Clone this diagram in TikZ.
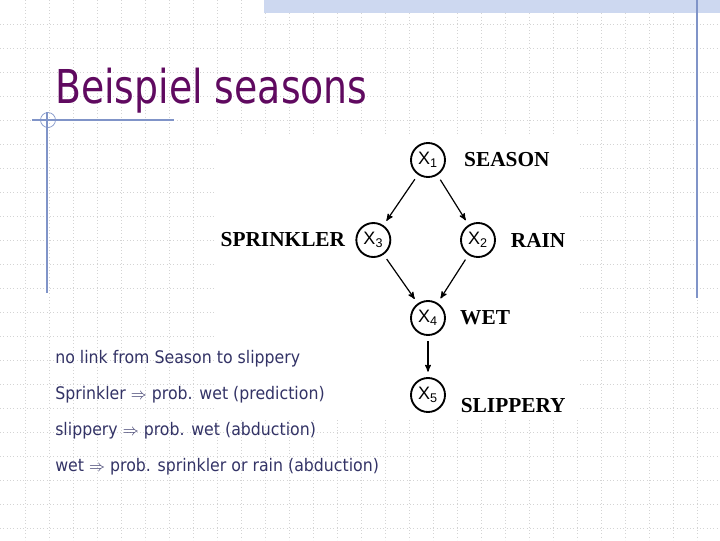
\documentclass[tikz,border=0pt]{standalone}
\usepackage{fontspec}
\setmainfont{DejaVu Sans}
\newfontfamily\titlefont{DejaVu Sans}[FakeStretch=0.81]
\newfontfamily\notefont{DejaVu Sans}[FakeStretch=0.91]
\newfontfamily\varfont{Liberation Sans}
\newfontfamily\namefont{Liberation Serif}
\usetikzlibrary{arrows, positioning}
\definecolor{titlepurple}{RGB}{96,10,96}
\definecolor{notecolor}{RGB}{51,51,102}
\definecolor{rulecolor}{RGB}{128,148,200}
\definecolor{barcolor}{RGB}{205,216,240}
\definecolor{gridcolor}{RGB}{212,212,212}

\begin{document}
\begin{tikzpicture}[x=0.75pt, y=-0.75pt]
		\tikzstyle{VarCircle} = [circle, on grid, minimum size=25.5pt, inner sep=0pt, draw=black, line width=1.4pt, font=\varfont\fontsize{13.5}{15}\selectfont]
		\tikzstyle{VarName} = [inner sep=0pt, font=\namefont\bfseries\fontsize{16}{18}\selectfont]
		\tikzstyle{NoteText} = [anchor=base west, inner sep=0pt, text=notecolor, font=\notefont\fontsize{13}{15}\selectfont]
		\tikzstyle{GridLine} = [gridcolor, dotted, line width=0.5pt]
		\tikzstyle{DecoLine} = [rulecolor, line width=0.8pt]
		\tikzstyle{arrow} = [->, >=stealth', line width=0.9pt, shorten >=4pt, shorten <=4pt]
		
		\useasboundingbox (0,0) rectangle (720,540);
		\fill[white] (0,0) rectangle (720,540);
		\foreach \gx in {25,49,...,697} \draw[GridLine] (\gx,0) -- (\gx,540);
		\foreach \gy in {24,48,...,528} \draw[GridLine] (0,\gy) -- (720,\gy);
		\fill[white] (214,135) rectangle (580,418);
		\fill[barcolor] (264,0) rectangle (720,13);
		\draw[DecoLine] (697,0) -- (697,298);
		\draw[DecoLine] (32,120) -- (174,120);
		\draw[DecoLine] (47,112) -- (47,293);
		\draw[DecoLine, line width=0.5pt] (48,120) circle (5.6pt);
		
		\node (title) [anchor=base west, inner sep=0pt, text=titlepurple, font=\titlefont\fontsize{35}{40}\selectfont] at (55,103) {Beispiel seasons};
		
		\node (xSeason) [VarCircle] at (428,160) {X\textsubscript{1}};
		\node (xSprinkler) [VarCircle, below left = 60pt and 41pt of xSeason] {X\textsubscript{3}};
		\node (xRain) [VarCircle, below right = 60pt and 37.5pt of xSeason] {X\textsubscript{2}};
		\node (xWet) [VarCircle, below = 118.5pt of xSeason] {X\textsubscript{4}};
		\node (xSlippery) [VarCircle, below = 57.75pt of xWet] {X\textsubscript{5}};
		
		\node (seasonName) [VarName, right = 13.5pt of xSeason] {SEASON};
		\node (sprinklerName) [VarName, left = 7.5pt of xSprinkler] {SPRINKLER};
		\node (rainName) [VarName, right = 11pt of xRain] {RAIN};
		\node (wetName) [VarName, right = 10.5pt of xWet] {WET};
		\node (slipperyName) [VarName, right = 11pt of xSlippery, yshift=-8pt] {SLIPPERY};
		
		\draw[arrow] (xSeason) -- (xSprinkler);
		\draw[arrow] (xSeason) -- (xRain);
		\draw[arrow] (xSprinkler) -- (xWet);
		\draw[arrow] (xRain) -- (xWet);
		\draw[arrow] (xWet) -- (xSlippery);
		
		\node (noteLink) [NoteText] at (55,363) {no link from Season to slippery};
		\node (notePredict) [NoteText] at (55,399) {Sprinkler $\Rightarrow$ prob. wet (prediction)};
		\node (noteSlip) [NoteText] at (55,435) {slippery $\Rightarrow$ prob. wet (abduction)};
		\node (noteWet) [NoteText] at (55,471) {wet $\Rightarrow$ prob. sprinkler or rain (abduction)};
\end{tikzpicture}
\end{document}
